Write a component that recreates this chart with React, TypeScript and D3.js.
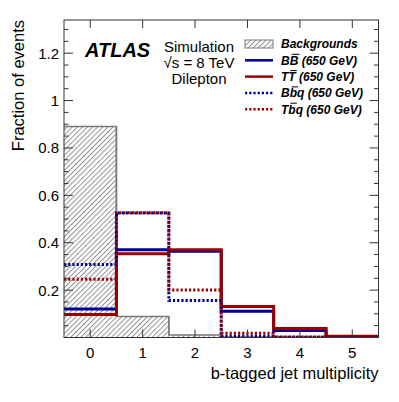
import React from "react";
import * as d3 from "d3";

const bins = [0, 1, 2, 3, 4, 5];
const backgrounds = [0.89, 0.089, 0.011, 0.002, 0.0, 0.0];
const bbSolid = [0.12, 0.37, 0.364, 0.111, 0.03, 0.004];
const ttSolid = [0.097, 0.353, 0.37, 0.131, 0.038, 0.005];
const bbqDotted = [0.308, 0.525, 0.156, 0.005, 0.001, 0.0];
const tbqDotted = [0.246, 0.527, 0.201, 0.018, 0.002, 0.0];
const yTicks = [0.2, 0.4, 0.6, 0.8, 1, 1.2];
const legendLabels = ["Backgrounds", "BB (650 GeV)", "TT (650 GeV)", "Bbq (650 GeV)", "Tbq (650 GeV)"];

const W = 399, H = 402;
const L = 64, R = 378.5, T = 20, B = 337.5;
const BLUE = "#000099";
const RED = "#990000";
const GRAY = "#7a7a7a";
const FONT = "Liberation Sans, Arial, Helvetica, sans-serif";

// approximate advance widths (em) of bold italic Arial
const charW: Record<string, number> = { B: 0.722, T: 0.611, b: 0.611 };

export default function App() {
  const x = d3.scaleLinear().domain([-0.5, 5.5]).range([L, R]);
  const y = d3.scaleLinear().domain([0, 1.34]).range([B, T]);

  const stepPath = (vals: number[]) => {
    const pts: [number, number][] = [];
    vals.forEach((v, i) => {
      pts.push([x(bins[i] - 0.5), y(v)]);
      pts.push([x(bins[i] + 0.5), y(v)]);
    });
    return d3.line()(pts) as string;
  };

  const minor = d3.range(0.05, 1.34, 0.05).filter(v => Math.abs(Math.round(v / 0.2) * 0.2 - v) > 1e-6);

  const series = [
    { vals: bbSolid, color: BLUE, dash: undefined },
    { vals: ttSolid, color: RED, dash: undefined },
    { vals: bbqDotted, color: BLUE, dash: "2.2,2" },
    { vals: tbqDotted, color: RED, dash: "2.2,2" },
  ];

  const legendStyles = [
    { kind: "hatch" },
    { kind: "line", color: BLUE, dash: undefined },
    { kind: "line", color: RED, dash: undefined },
    { kind: "line", color: BLUE, dash: "2.2,2" },
    { kind: "line", color: RED, dash: "2.2,2" },
  ];
  const FS = 12;
  const LX = 281;

  return (
    <svg width={W} height={H} style={{ display: "block", position: "absolute", left: 0, top: 0 }} fontFamily={FONT}>
      <defs>
        <pattern id="hatch" patternUnits="userSpaceOnUse" width="3.6" height="3.6" patternTransform="rotate(45)">
          <line x1="0.5" y1="0" x2="0.5" y2="3.6" stroke={GRAY} strokeWidth="0.8" />
        </pattern>
        <clipPath id="frameClip">
          <rect x={L} y={T} width={R - L} height={B - T} />
        </clipPath>
      </defs>
      <rect x={0} y={0} width={W} height={H} fill="white" />

      <g clipPath="url(#frameClip)">
        {backgrounds.map((v, i) => (
          v > 0 ? <rect key={i} x={x(bins[i] - 0.5)} y={y(v)} width={x(1) - x(0)} height={B - y(v)} fill="url(#hatch)" /> : null
        ))}
        <path d={stepPath(backgrounds)} fill="none" stroke={GRAY} strokeWidth={1.5} />
        {backgrounds.slice(0, -1).map((v, i) => (
          <line key={i} x1={x(bins[i] + 0.5)} x2={x(bins[i] + 0.5)} y1={y(v)} y2={y(backgrounds[i + 1])} stroke={GRAY} strokeWidth={1.5} />
        ))}
        {series.map((s, i) => (
          <path key={i} d={stepPath(s.vals)} fill="none" stroke={s.color} strokeWidth={3} strokeDasharray={s.dash} />
        ))}
      </g>

      <rect x={L} y={T} width={R - L} height={B - T} fill="none" stroke="#333" strokeWidth={1} />

      {bins.map(b => (
        <g key={b}>
          <line x1={x(b)} x2={x(b)} y1={B} y2={B - 8} stroke="#333" />
          <line x1={x(b)} x2={x(b)} y1={T} y2={T + 8} stroke="#333" />
          <text x={x(b)} y={B + 20} textAnchor="middle" fontSize={15} fill="#000">{b}</text>
        </g>
      ))}
      {yTicks.map(v => (
        <g key={v}>
          <line x1={L} x2={L + 9} y1={y(v)} y2={y(v)} stroke="#333" />
          <line x1={R} x2={R - 9} y1={y(v)} y2={y(v)} stroke="#333" />
          <text x={L - 5} y={y(v) + 5.5} textAnchor="end" fontSize={15} fill="#000">{v}</text>
        </g>
      ))}
      {minor.map(v => (
        <g key={"m" + v}>
          <line x1={L} x2={L + 4.5} y1={y(v)} y2={y(v)} stroke="#333" />
          <line x1={R} x2={R - 4.5} y1={y(v)} y2={y(v)} stroke="#333" />
        </g>
      ))}

      <text x={R} y={379} textAnchor="end" fontSize={16.5} fill="#000">b-tagged jet multiplicity</text>
      <text transform={`translate(24,${T}) rotate(-90)`} textAnchor="end" fontSize={16.5} fill="#000">Fraction of events</text>

      <text x={85} y={57} fontSize={20} fontWeight="bold" fontStyle="italic" fill="#000">ATLAS</text>
      <text x={199} y={52} textAnchor="middle" fontSize={15} fill="#000">Simulation</text>
      <text x={199} y={68} textAnchor="middle" fontSize={15} fill="#000">√s = 8 TeV</text>
      <text x={199} y={84} textAnchor="middle" fontSize={15} fill="#000">Dilepton</text>

      {legendLabels.map((label, i) => {
        const cy = 44 + i * 16.3;
        const st: any = legendStyles[i];
        const hasBar = i > 0;
        const barStart = hasBar ? LX + charW[label[0]] * FS + 0.8 : 0;
        const barEnd = hasBar ? barStart + charW[label[1]] * FS - 0.8 : 0;
        return (
          <g key={i}>
            {st.kind === "hatch" ? (
              <rect x={245} y={cy - 4} width={28} height={8} fill="url(#hatch)" stroke={GRAY} strokeWidth={1} />
            ) : (
              <line x1={245} x2={273} y1={cy} y2={cy} stroke={st.color} strokeWidth={2.5} strokeDasharray={st.dash} />
            )}
            <text x={LX} y={cy + 4.3} fontSize={FS} fontWeight="bold" fontStyle="italic" fill="#000">{label}</text>
            {hasBar && (
              <line x1={barStart + 1.2} x2={barEnd + 1.2} y1={cy - 6} y2={cy - 6} stroke="#000" strokeWidth={1} />
            )}
          </g>
        );
      })}
    </svg>
  );
}
